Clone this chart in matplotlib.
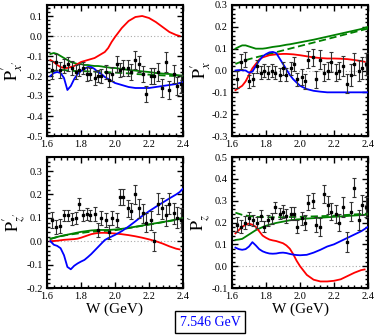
import numpy as np
import matplotlib
matplotlib.use("Agg")
from matplotlib import pyplot as plt
from matplotlib.ticker import MultipleLocator

plt.rcParams['font.family'] = ['Liberation Serif', 'DejaVu Serif']
plt.rcParams['mathtext.fontset'] = 'stix'

# data points (W in GeV)
W = [1.63, 1.655, 1.675, 1.70, 1.725, 1.745, 1.77, 1.79, 1.81, 1.835, 1.855, 1.88,
     1.90, 1.92, 1.945, 1.965, 1.985, 2.01, 2.03, 2.05, 2.075, 2.095, 2.12, 2.14,
     2.165, 2.185, 2.21, 2.23, 2.255, 2.275, 2.30, 2.32, 2.345, 2.365, 2.39]

px_pr = [-0.17, -0.13, -0.17, -0.15, -0.14, -0.16, -0.18, -0.17, -0.16, -0.19, -0.19, -0.21,
         -0.20, -0.20, -0.18, -0.22, -0.19, -0.14, -0.17, -0.16, -0.16, -0.18, -0.12, -0.14,
         -0.19, -0.29, -0.20, -0.20, -0.18, -0.26, -0.13, -0.27, -0.19, -0.25, -0.24]
px_pr_err = [0.045, 0.04, 0.04, 0.035, 0.035, 0.035, 0.035, 0.03, 0.03, 0.035, 0.03, 0.035,
             0.03, 0.035, 0.035, 0.035, 0.035, 0.04, 0.035, 0.04, 0.04, 0.04, 0.045, 0.04,
             0.04, 0.04, 0.04, 0.04, 0.045, 0.045, 0.05, 0.045, 0.045, 0.045, 0.045]

px = [-0.04, 0.04, 0.05, -0.05, -0.04, 0.02, -0.01, 0.00, -0.01, 0.00, -0.01, -0.02,
      0.01, -0.02, 0.01, 0.03, -0.04, -0.03, -0.05, 0.05, 0.06, -0.04, 0.05, -0.01,
      0.00, 0.04, -0.01, 0.00, 0.02, -0.06, -0.02, 0.03, 0.00, 0.01, 0.03]
px_err = [0.04, 0.035, 0.035, 0.03, 0.03, 0.03, 0.03, 0.03, 0.03, 0.03, 0.03, 0.03,
          0.03, 0.03, 0.03, 0.03, 0.03, 0.035, 0.035, 0.04, 0.04, 0.04, 0.045, 0.04,
          0.04, 0.045, 0.04, 0.04, 0.045, 0.045, 0.05, 0.05, 0.05, 0.05, 0.05]

pz_pr = [0.09, 0.06, 0.065, 0.11, 0.11, 0.095, 0.10, 0.16, 0.11, 0.115, 0.11, 0.115,
         0.05, 0.10, 0.09, 0.04, 0.10, 0.09, 0.19, 0.19, 0.14, 0.13, 0.20, 0.14,
         0.12, 0.08, 0.09, 0.00, 0.16, 0.14, 0.11, 0.16, 0.12, 0.10, 0.09]
pz_pr_err = [0.035, 0.03, 0.03, 0.025, 0.025, 0.025, 0.025, 0.025, 0.025, 0.025, 0.025, 0.03,
             0.03, 0.03, 0.03, 0.03, 0.03, 0.03, 0.035, 0.035, 0.035, 0.035, 0.04, 0.04,
             0.04, 0.04, 0.04, 0.04, 0.045, 0.045, 0.045, 0.045, 0.045, 0.045, 0.05]

pz = [0.19, 0.18, 0.20, 0.22, 0.21, 0.20, 0.23, 0.18, 0.21, 0.22, 0.27, 0.24,
      0.25, 0.23, 0.24, 0.24, 0.18, 0.22, 0.20, 0.29, 0.30, 0.19, 0.18, 0.33,
      0.28, 0.25, 0.24, 0.20, 0.27, 0.11, 0.25, 0.36, 0.21, 0.28, 0.27]
pz_err = [0.035, 0.03, 0.03, 0.03, 0.025, 0.025, 0.025, 0.025, 0.025, 0.025, 0.025, 0.025,
          0.03, 0.03, 0.03, 0.03, 0.03, 0.03, 0.035, 0.035, 0.035, 0.035, 0.04, 0.04,
          0.04, 0.04, 0.04, 0.04, 0.045, 0.045, 0.045, 0.045, 0.045, 0.045, 0.045]

# model curves
Wc = [1.62, 1.64, 1.66, 1.68, 1.70, 1.72, 1.74, 1.76, 1.78, 1.80, 1.82, 1.84, 1.86, 1.88,
      1.90, 1.92, 1.94, 1.96, 1.98, 2.00, 2.04, 2.08, 2.12, 2.16, 2.20, 2.24, 2.28, 2.32,
      2.36, 2.38, 2.40]

px_pr_red = [-0.12, -0.13, -0.145, -0.155, -0.16, -0.16, -0.155, -0.15, -0.14, -0.13, -0.125,
             -0.12, -0.115, -0.11, -0.10, -0.09, -0.08, -0.06, -0.03, -0.005, 0.04, 0.075,
             0.095, 0.10, 0.09, 0.07, 0.045, 0.02, 0.005, 0.0, np.nan]
px_pr_blue = [-0.20, -0.185, -0.18, -0.185, -0.21, -0.27, -0.25, -0.215, -0.19, -0.175,
              -0.165, -0.155, -0.155, -0.165, -0.18, -0.19, -0.205, -0.215, -0.225, -0.235,
              -0.245, -0.255, -0.26, -0.26, -0.26, -0.255, -0.25, -0.245, -0.24, -0.235, -0.23]
px_pr_gr = [-0.09, -0.085, -0.09, -0.10, -0.11, -0.12, -0.13, -0.135, -0.14, -0.14, -0.145,
            -0.145, -0.148, -0.15, -0.15, -0.152, -0.155, -0.157, -0.16, -0.16, -0.165, -0.17,
            -0.173, -0.177, -0.18, -0.185, -0.188, -0.19, -0.195, -0.197, -0.198]
px_pr_grd = [-0.18, -0.175, -0.172, -0.17, -0.17, -0.172, -0.173, -0.175, -0.175, -0.176,
             -0.176, -0.177, -0.178, -0.178, -0.18, -0.18, -0.181, -0.181, -0.182, -0.183,
             -0.185, -0.187, -0.19, -0.192, -0.193, -0.195, -0.197, -0.199, -0.2, -0.2, -0.2]

px_red = [-0.09, -0.08, -0.07, -0.05, -0.02, 0.01, 0.03, 0.05, 0.06, 0.065, 0.07, 0.072,
          0.074, 0.075, 0.076, 0.076, 0.075, 0.074, 0.072, 0.07, 0.065, 0.06, 0.057, 0.055,
          0.055, 0.054, 0.052, 0.048, 0.043, 0.04, np.nan]
px_blue = [0.0, 0.002, 0.001, 0.0, -0.01, -0.005, 0.02, 0.045, 0.065, 0.075, 0.083, 0.085,
           0.08, 0.055, 0.03, 0.005, -0.02, -0.04, -0.055, -0.07, -0.085, -0.093, -0.097,
           -0.1, -0.1, -0.1, -0.1, -0.1, -0.1, -0.1, -0.1]
px_gr = [0.1, 0.108, 0.115, 0.115, 0.11, 0.105, 0.1, 0.1, 0.1, 0.102, 0.105, 0.108, 0.11,
         0.112, 0.115, 0.118, 0.12, 0.123, 0.126, 0.129, 0.135, 0.141, 0.148, 0.155, 0.162,
         0.169, 0.176, 0.183, 0.19, 0.195, 0.2]
px_grd = [0.03, 0.036, 0.042, 0.047, 0.052, 0.056, 0.06, 0.064, 0.068, 0.072, 0.076, 0.08,
          0.084, 0.088, 0.092, 0.096, 0.1, 0.104, 0.108, 0.112, 0.12, 0.128, 0.136, 0.144,
          0.152, 0.16, 0.168, 0.176, 0.184, 0.188, 0.192]

pz_pr_red = [0.0, 0.001, 0.002, 0.004, 0.006, 0.007, 0.008, 0.009, 0.011, 0.015, 0.02,
             0.025, 0.03, 0.033, 0.035, 0.036, 0.036, 0.035, 0.034, 0.033, 0.03, 0.026,
             0.021, 0.015, 0.008, 0.0, -0.01, -0.022, -0.032, -0.035, np.nan]
pz_pr_blue = [0.0, -0.015, -0.02, -0.03, -0.06, -0.11, -0.12, -0.105, -0.095, -0.087,
              -0.08, -0.068, -0.055, -0.04, -0.025, -0.01, 0.005, 0.013, 0.02, 0.027, 0.043,
              0.063, 0.085, 0.108, 0.128, 0.147, 0.165, 0.183, 0.2, 0.21, 0.225]
pz_pr_gr = [0.01, 0.014, 0.018, 0.022, 0.025, 0.028, 0.031, 0.034, 0.037, 0.04, 0.042,
            0.044, 0.046, 0.047, 0.048, 0.048, 0.048, 0.048, 0.049, 0.05, 0.053, 0.057,
            0.062, 0.067, 0.072, 0.077, 0.082, 0.087, 0.093, 0.096, 0.1]
pz_pr_grd = [0.01, 0.014, 0.018, 0.021, 0.024, 0.027, 0.029, 0.031, 0.033, 0.035, 0.037,
             0.039, 0.04, 0.041, 0.042, 0.043, 0.044, 0.045, 0.046, 0.047, 0.051, 0.056,
             0.061, 0.066, 0.071, 0.076, 0.081, 0.086, 0.091, 0.094, 0.097]

pz_red = [0.15, 0.165, 0.18, 0.19, 0.195, 0.19, 0.18, 0.16, 0.14, 0.13, 0.122, 0.118, 0.115,
          0.11, 0.105, 0.095, 0.08, 0.055, 0.025, 0.0, -0.04, -0.062, -0.07, -0.07, -0.067,
          -0.06, -0.045, -0.03, -0.018, -0.015, np.nan]
pz_blue = [0.085, 0.078, 0.075, 0.078, 0.09, 0.11, 0.095, 0.078, 0.068, 0.062, 0.058, 0.057,
           0.058, 0.061, 0.062, 0.06, 0.056, 0.053, 0.051, 0.05, 0.052, 0.062, 0.075, 0.09,
           0.1, 0.115, 0.13, 0.145, 0.16, 0.17, 0.18]
pz_gr = [0.12, 0.122, 0.125, 0.135, 0.145, 0.155, 0.165, 0.172, 0.179, 0.185, 0.19, 0.194,
         0.198, 0.201, 0.204, 0.207, 0.21, 0.212, 0.214, 0.215, 0.218, 0.22, 0.222, 0.224,
         0.226, 0.228, 0.23, 0.232, 0.234, 0.235, 0.236]
pz_grd = [0.245, 0.24, 0.235, 0.232, 0.23, 0.228, 0.226, 0.225, 0.225, 0.224, 0.224, 0.224,
          0.224, 0.224, 0.224, 0.225, 0.225, 0.225, 0.226, 0.226, 0.227, 0.228, 0.229, 0.23,
          0.231, 0.233, 0.235, 0.237, 0.239, 0.24, 0.241]

panels = [
    dict(pos=[47, 5, 136, 131], ylim=(-0.5, 0.155), lpad=0.5,
         label=r"$\mathrm{P}^{\prime}_{x^{\prime}}$", d=px_pr, e=px_pr_err,
         red=px_pr_red, blue=px_pr_blue, gr=px_pr_gr, grd=px_pr_grd),
    dict(pos=[232, 5, 136, 131], ylim=(-0.3, 0.3), lpad=-1,
         label=r"$\mathrm{P}^{\prime}_{x}$", d=px, e=px_err,
         red=px_red, blue=px_blue, gr=px_gr, grd=px_grd),
    dict(pos=[47, 157, 136, 131], ylim=(-0.2, 0.36), lpad=-1.5,
         label=r"$\mathrm{P}^{\prime}_{z^{\prime}}$", d=pz_pr, e=pz_pr_err,
         red=pz_pr_red, blue=pz_pr_blue, gr=pz_pr_gr, grd=pz_pr_grd),
    dict(pos=[232, 157, 136, 131], ylim=(-0.1, 0.5), lpad=-1,
         label=r"$\mathrm{P}^{\prime}_{z}$", d=pz, e=pz_err,
         red=pz_red, blue=pz_blue, gr=pz_gr, grd=pz_grd),
]

FW, FH = 374, 335
fig = plt.figure(figsize=(FW / 100, FH / 100), dpi=100)

for i, p in enumerate(panels):
    l, t, w, h = p["pos"]
    ax = fig.add_axes([l / FW, 1 - (t + h) / FH, w / FW, h / FH])
    ax.axhline(0, color="#aaaaaa", lw=0.8, ls=(0, (1, 2)), zorder=1)
    ax.plot(Wc, p["gr"], color="#008000", lw=1.3, zorder=3)
    ax.plot(Wc, p["grd"], color="#008000", lw=1.3, ls=(0, (4, 2)), zorder=3)
    ax.plot(Wc, p["red"], color="#ff0000", lw=1.3, zorder=3)
    ax.plot(Wc, p["blue"], color="#0000ff", lw=1.3, zorder=3)
    ax.errorbar(W, p["d"], yerr=p["e"], fmt="s", ms=2, color="black",
                ecolor="#333333", elinewidth=0.8, capsize=1.5, capthick=0.8, zorder=4)
    ax.set_xlim(1.6, 2.4)
    ax.set_ylim(*p["ylim"])
    ax.xaxis.set_major_locator(MultipleLocator(0.2))
    ax.xaxis.set_minor_locator(MultipleLocator(0.04))
    ax.yaxis.set_major_locator(MultipleLocator(0.1))
    ax.yaxis.set_minor_locator(MultipleLocator(0.02))
    ax.yaxis.set_major_formatter(matplotlib.ticker.FormatStrFormatter("%.1f"))
    ax.tick_params(which="both", direction="in", top=True, right=True, labelsize=7.5,
                   width=1.0, pad=3)
    ax.tick_params(which="major", length=4)
    ax.tick_params(which="minor", length=2)
    for s in ax.spines.values():
        s.set_linewidth(1.5)
    ax.set_ylabel(p["label"], fontsize=13, labelpad=p["lpad"])
    if i >= 2:
        ax.set_xlabel("W (GeV)", fontsize=11, labelpad=1)

fig.text(210 / FW, 1 - 322 / FH, "7.546 GeV", color="#0000ff", fontsize=10,
         ha="center", va="center",
         bbox=dict(boxstyle="square,pad=0.3", fc="white", ec="black", lw=1.0))

fig.savefig("out.png", dpi=100)
